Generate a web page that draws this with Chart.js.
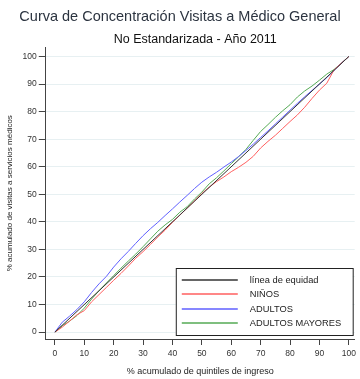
<!DOCTYPE html>
<html>
<head>
<meta charset="utf-8">
<script src="https://cdn.jsdelivr.net/npm/chart.js@4.4.1/dist/chart.umd.min.js"></script>
<style>
  html, body { margin: 0; padding: 0; background: #fff; }
  #wrap { width: 360px; height: 379px; }
</style>
</head>
<body>
<div id="wrap"><canvas id="curva"></canvas></div>
<script>
// % acumulado de quintiles de ingreso (eje x)
const pctIngreso = [0, 2.5, 5, 7.5, 10, 12.5, 15, 17.5, 20, 22.5, 25, 27.5, 30, 32.5, 35, 37.5, 40,
  42.5, 45, 47.5, 50, 52.5, 55, 57.5, 60, 62.5, 65, 67.5, 70, 72.5, 75, 77.5, 80, 82.5, 85, 87.5,
  90, 92.5, 95, 97.5, 100];
// % acumulado de visitas a servicios medicos
const ninos = [0, 1.8, 4.0, 6.3, 7.8, 11.0, 13.6, 16.2, 18.8, 21.3, 24.0, 26.8, 29.2, 31.8, 34.5, 37.0, 39.8,
  42.4, 45.0, 47.6, 50.3, 52.6, 54.6, 56.3, 58.2, 59.8, 61.6, 63.8, 66.8, 69.2, 71.4, 73.9, 76.4, 78.8, 81.6, 84.8,
  87.8, 90.3, 95.2, 97.6, 100];
const adultos = [0, 3.6, 5.8, 8.2, 11.0, 14.4, 17.5, 20.2, 23.6, 26.6, 29.3, 32.2, 35.0, 37.5, 39.8, 42.3, 44.7,
  47.2, 49.6, 52.1, 54.4, 56.3, 58.0, 59.9, 61.7, 63.7, 65.9, 68.2, 70.6, 73.0, 75.5, 78.0, 80.5, 83.0, 85.4, 87.7,
  90.0, 92.3, 95.0, 97.6, 100];
const mayores = [0, 2.3, 4.0, 6.0, 8.7, 12.0, 15.0, 17.8, 20.5, 23.2, 25.8, 28.3, 31.0, 33.8, 36.6, 38.9, 40.9,
  43.5, 45.5, 48.3, 50.8, 53.8, 56.0, 58.5, 61.1, 63.6, 66.3, 69.6, 72.8, 75.3, 77.9, 80.3, 82.5, 85.3, 87.5, 89.3,
  91.4, 93.6, 95.3, 97.6, 100];
const equidadX = [0, 100];
const equidadY = [0, 100];
const tickVals = [0, 10, 20, 30, 40, 50, 60, 70, 80, 90, 100];
const subtitulo = 'No Estandarizada - Año 2011';

const FONT = 'Arial, "Liberation Sans", sans-serif';
const pts = (xs, ys) => xs.map((x, i) => ({ x: x, y: ys[i] }));
const fixTicks = axis => { axis.ticks = tickVals.map(v => ({ value: v })); };

// subtitle centred over the plot region, legend box inside the plot
const extras = {
  id: 'extras',
  afterDraw(chart) {
    const { ctx, chartArea } = chart;
    ctx.save();
    ctx.font = '12.5px ' + FONT;
    ctx.fillStyle = '#111';
    ctx.textAlign = 'center';
    ctx.textBaseline = 'middle';
    ctx.fillText(subtitulo, (chartArea.left + chartArea.right) / 2 - 5, chartArea.top - 8);

    const left = chartArea.left + 130, right = chartArea.right - 2;
    const bottom = chartArea.bottom - 4, top = bottom - 67;
    ctx.fillStyle = '#fff';
    ctx.fillRect(left, top, right - left, bottom - top);
    ctx.strokeStyle = '#222';
    ctx.lineWidth = 1;
    ctx.strokeRect(left + 0.5, top + 0.5, right - left, bottom - top);
    ctx.font = '9.3px ' + FONT;
    ctx.textAlign = 'left';
    chart.data.datasets.forEach((ds, i) => {
      const y = Math.round(top + 12 + i * 14.3);
      ctx.strokeStyle = ds.borderColor;
      ctx.lineWidth = 1.5;
      ctx.beginPath();
      ctx.moveTo(left + 6, y);
      ctx.lineTo(left + 62, y);
      ctx.stroke();
      ctx.fillStyle = '#222';
      ctx.fillText(ds.label, left + 74, y);
    });
    ctx.restore();
  }
};

new Chart(document.getElementById('curva'), {
  type: 'line',
  data: {
    datasets: [
      { label: 'línea de equidad', data: pts(equidadX, equidadY), borderColor: '#333333' },
      { label: 'NIÑOS', data: pts(pctIngreso, ninos), borderColor: '#ff5f5f' },
      { label: 'ADULTOS', data: pts(pctIngreso, adultos), borderColor: '#5f5fff' },
      { label: 'ADULTOS MAYORES', data: pts(pctIngreso, mayores), borderColor: '#55aa55' }
    ]
  },
  options: {
    responsive: true,
    maintainAspectRatio: false,
    animation: false,
    elements: {
      point: { radius: 0 },
      line: { borderWidth: 1, tension: 0 }
    },
    layout: { padding: { left: 5, right: 5, top: 0, bottom: 2 } },
    plugins: {
      legend: { display: false },
      tooltip: { enabled: false },
      title: {
        display: true,
        text: 'Curva de Concentración Visitas a Médico General',
        color: '#2c3440',
        font: { family: FONT, size: 14.5, weight: 'normal' },
        padding: { top: 8, bottom: 22 }
      }
    },
    scales: {
      x: {
        type: 'linear',
        min: -3.1,
        max: 102,
        afterBuildTicks: fixTicks,
        border: { display: true, color: '#444', width: 1 },
        grid: { drawOnChartArea: false, drawTicks: true, tickLength: 6, tickColor: '#444' },
        ticks: { color: '#333', padding: 4, maxRotation: 0, font: { family: FONT, size: 8.5 } },
        title: {
          display: true,
          text: '% acumulado de quintiles de ingreso',
          color: '#222',
          font: { family: FONT, size: 9 },
          padding: { top: 3, bottom: 0 }
        }
      },
      y: {
        type: 'linear',
        min: -2.5,
        max: 103.3,
        afterBuildTicks: fixTicks,
        border: { display: true, color: '#444', width: 1 },
        grid: { color: '#e7f0f2', drawTicks: true, tickLength: 7, tickColor: '#444' },
        ticks: { color: '#333', padding: 2, font: { family: FONT, size: 8.5 } },
        title: {
          display: true,
          text: '% acumulado de visitas a servicios médicos',
          color: '#222',
          font: { family: FONT, size: 8 },
          padding: { top: 0, bottom: 6 }
        }
      }
    }
  },
  plugins: [extras]
});
</script>
</body>
</html>
